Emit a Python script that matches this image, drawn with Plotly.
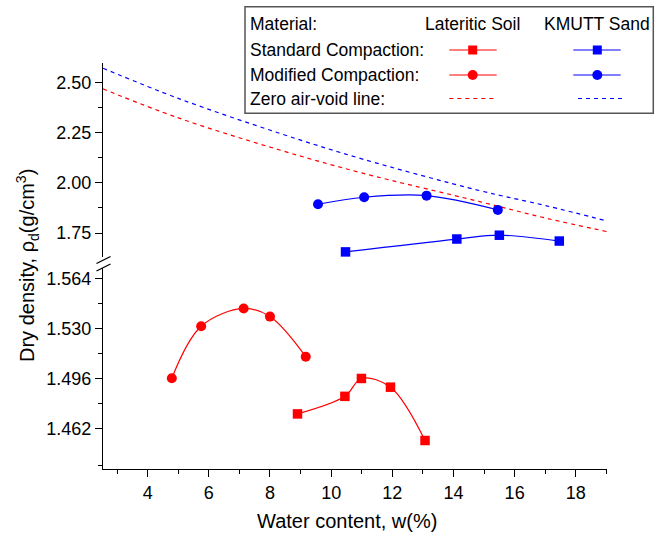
import plotly.graph_objects as go

# ---------------- data ----------------
# Lateritic soil (lower y-axis segment)
lat_std_w = [8.90, 10.45, 10.99, 11.94, 13.07]
lat_std_rho = [1.4722, 1.4841, 1.4962, 1.4903, 1.4542]
lat_mod_w = [4.79, 5.75, 7.14, 8.00, 9.17]
lat_mod_rho = [1.4964, 1.5316, 1.5436, 1.5381, 1.5109]

# KMUTT sand (upper y-axis segment)
sand_std_w = [10.47, 14.11, 15.50, 17.46]
sand_std_rho = [1.656, 1.720, 1.739, 1.710]
sand_mod_w = [9.57, 11.08, 13.12, 15.45]
sand_mod_rho = [1.893, 1.928, 1.936, 1.865]

# Zero air-void lines
zav_w = [2.54, 5.0, 8.32, 11.0, 14.86, 17.05, 19.02]
zav_lat_rho = [2.467, 2.323, 2.163, 2.049, 1.906, 1.823, 1.757]
zav_sand_rho = [2.570, 2.420, 2.246, 2.119, 1.961, 1.885, 1.810]

x_ticks = [4, 6, 8, 10, 12, 14, 16, 18]
x_minor = [3, 5, 7, 9, 11, 13, 15, 17, 19]
upper_ticks = [1.75, 2.00, 2.25, 2.50]
upper_labels = ["1.75", "2.00", "2.25", "2.50"]
upper_minor = [1.875, 2.125, 2.375]
lower_ticks = [1.462, 1.496, 1.530, 1.564]
lower_labels = ["1.462", "1.496", "1.530", "1.564"]
lower_minor = [1.4376, 1.479, 1.513, 1.547]

RED = "#FF0000"
BLUE = "#0000FF"
FONT = "Arial, Liberation Sans, sans-serif"

# ---------------- layout geometry (pixels) ----------------
W, H = 665, 535
L, R, T, B = 103, 58, 63, 66
PW, PH = W - L - R, H - T - B


def PX(px):
    return (px - L) / PW


def PY(py):
    return (H - B - py) / PH


fig = go.Figure()

# zero air-void lines (upper segment)
fig.add_trace(go.Scatter(x=zav_w, y=zav_sand_rho, yaxis="y2", mode="lines",
                         line=dict(color=BLUE, width=1.2, dash="4px,4px", shape="spline"),
                         showlegend=False, hoverinfo="skip"))
fig.add_trace(go.Scatter(x=zav_w, y=zav_lat_rho, yaxis="y2", mode="lines",
                         line=dict(color=RED, width=1.2, dash="4px,4px", shape="spline"),
                         showlegend=False, hoverinfo="skip"))

# KMUTT sand
fig.add_trace(go.Scatter(x=sand_mod_w, y=sand_mod_rho, yaxis="y2", mode="lines+markers",
                         line=dict(color=BLUE, width=1.2, shape="spline"),
                         marker=dict(symbol="circle", size=10, color=BLUE),
                         showlegend=False))
fig.add_trace(go.Scatter(x=sand_std_w, y=sand_std_rho, yaxis="y2", mode="lines+markers",
                         line=dict(color=BLUE, width=1.2, shape="spline"),
                         marker=dict(symbol="square", size=9.5, color=BLUE),
                         showlegend=False))

# Lateritic soil
fig.add_trace(go.Scatter(x=lat_mod_w, y=lat_mod_rho, yaxis="y", mode="lines+markers",
                         line=dict(color=RED, width=1.2, shape="spline"),
                         marker=dict(symbol="circle", size=10, color=RED),
                         showlegend=False))
fig.add_trace(go.Scatter(x=lat_std_w, y=lat_std_rho, yaxis="y", mode="lines+markers",
                         line=dict(color=RED, width=1.2, shape="spline"),
                         marker=dict(symbol="square", size=9.5, color=RED),
                         showlegend=False))

upper_bottom_px, lower_top_px = 257, 268

axis_common = dict(showgrid=False, zeroline=False, showline=True, linecolor="black",
                   linewidth=1.3, ticks="outside", ticklen=7, tickwidth=1.2,
                   tickcolor="black", tickfont=dict(family=FONT, size=18, color="black"))

fig.update_layout(
    width=W, height=H,
    margin=dict(l=L, r=R, t=T, b=B),
    paper_bgcolor="white", plot_bgcolor="white",
    showlegend=False,
    xaxis=dict(range=[2.54, 19.02], tickmode="array", tickvals=x_ticks,
               ticktext=[str(v) for v in x_ticks],
               minor=dict(tickmode="array", tickvals=x_minor, ticks="outside",
                          ticklen=4, tickwidth=1.2, tickcolor="black"),
               anchor="y", **axis_common),
    yaxis=dict(domain=[0, PY(lower_top_px)], range=[1.4349, 1.571],
               tickmode="array", tickvals=lower_ticks, ticktext=lower_labels,
               minor=dict(tickmode="array", tickvals=lower_minor, ticks="outside",
                          ticklen=4, tickwidth=1.2, tickcolor="black"),
               anchor="x", **axis_common),
    yaxis2=dict(domain=[PY(upper_bottom_px), 1], range=[1.6306, 2.596],
                tickmode="array", tickvals=upper_ticks, ticktext=upper_labels,
                minor=dict(tickmode="array", tickvals=upper_minor, ticks="outside",
                           ticklen=4, tickwidth=1.2, tickcolor="black"),
                anchor="x", **axis_common),
)

shapes = []
# axis break marks
for dy in (0, 7.5):
    shapes.append(dict(type="line", xref="paper", yref="paper",
                       x0=PX(96.5), y0=PY(263.5 + dy), x1=PX(110.5), y1=PY(256.5 + dy),
                       line=dict(color="black", width=1.3)))

# legend box
shapes.append(dict(type="rect", xref="paper", yref="paper",
                   x0=PX(245), y0=PY(113.3), x1=PX(653.3), y1=PY(6.7),
                   line=dict(color="#555555", width=1.5), fillcolor="white", layer="above"))

rows_y = {"head": 24, "std": 50, "mod": 75, "zav": 98.5}
cols = {"lat": (449.3, 496.7, 472.7, RED), "sand": (573.3, 620.7, 597.3, BLUE)}

for key, (xa, xb, xm, col) in cols.items():
    for row in ("std", "mod"):
        y = rows_y[row]
        shapes.append(dict(type="line", xref="paper", yref="paper",
                           x0=PX(xa), y0=PY(y), x1=PX(xb), y1=PY(y),
                           line=dict(color=col, width=1.2), layer="above"))
    hs = 4.5
    shapes.append(dict(type="rect", xref="paper", yref="paper",
                       x0=PX(xm - hs), y0=PY(rows_y["std"] + hs), x1=PX(xm + hs), y1=PY(rows_y["std"] - hs),
                       line=dict(width=0), fillcolor=col, layer="above"))
    hc = 5
    shapes.append(dict(type="circle", xref="paper", yref="paper",
                       x0=PX(xm - hc), y0=PY(rows_y["mod"] + hc), x1=PX(xm + hc), y1=PY(rows_y["mod"] - hc),
                       line=dict(width=0), fillcolor=col, layer="above"))

shapes.append(dict(type="line", xref="paper", yref="paper",
                   x0=PX(449.3), y0=PY(rows_y["zav"]), x1=PX(494), y1=PY(rows_y["zav"]),
                   line=dict(color=RED, width=1.2, dash="4px,4px"), layer="above"))
shapes.append(dict(type="line", xref="paper", yref="paper",
                   x0=PX(578), y0=PY(rows_y["zav"]), x1=PX(622), y1=PY(rows_y["zav"]),
                   line=dict(color=BLUE, width=1.2, dash="4px,4px"), layer="above"))

fig.update_layout(shapes=shapes)

ann = []
lfont = dict(family=FONT, size=17.5, color="black")
row_labels = [("Material:", "head"), ("Standard Compaction:", "std"),
              ("Modified Compaction:", "mod"), ("Zero air-void line:", "zav")]
for txt, row in row_labels:
    ann.append(dict(text=txt, xref="paper", yref="paper", x=PX(248), y=PY(rows_y[row]),
                    xanchor="left", yanchor="middle", showarrow=False, font=lfont))
ann.append(dict(text="Lateritic Soil", xref="paper", yref="paper", x=PX(472.3), y=PY(rows_y["head"]),
                xanchor="center", yanchor="middle", showarrow=False, font=lfont))
ann.append(dict(text="KMUTT Sand", xref="paper", yref="paper", x=PX(596.7), y=PY(rows_y["head"]),
                xanchor="center", yanchor="middle", showarrow=False, font=lfont))

# axis titles
ann.append(dict(text="Water content, w(%)", xref="paper", yref="paper", x=PX(347), y=PY(521),
                xanchor="center", yanchor="middle", showarrow=False,
                font=dict(family=FONT, size=20, color="black")))
ann.append(dict(text="Dry density, ρ<sub>d</sub>(g/cm<sup>3</sup>)", xref="paper", yref="paper",
                x=PX(27), y=PY(266), xanchor="center", yanchor="middle", textangle=-90,
                showarrow=False, font=dict(family=FONT, size=20, color="black")))

fig.update_layout(annotations=ann)

fig.write_html("out.html")
